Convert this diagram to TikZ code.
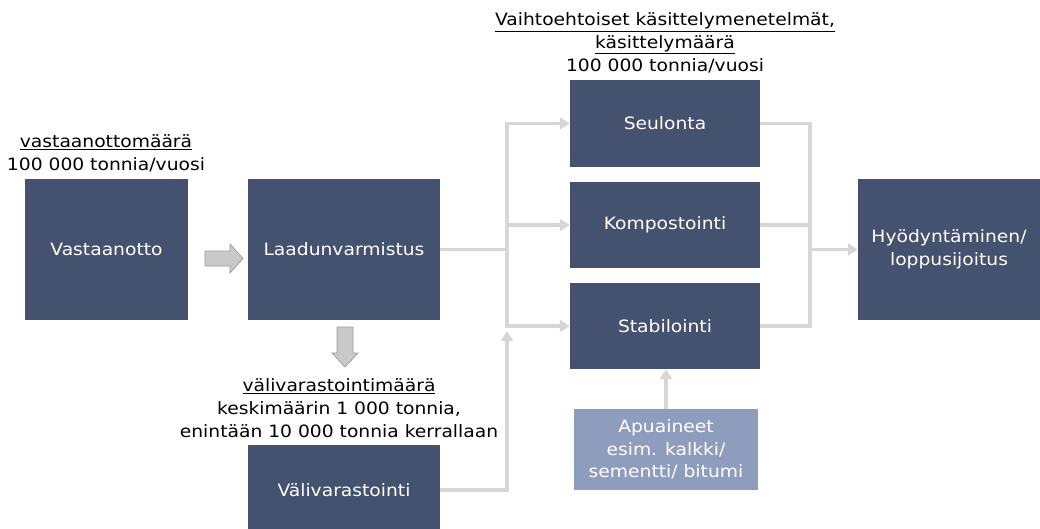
\documentclass[tikz,border=0pt]{standalone}
\usepackage{fontspec}
\setmainfont[FakeStretch=1.1]{DejaVu Sans}
\usetikzlibrary{arrows.meta}
\definecolor{boxdark}{HTML}{44526F}
\definecolor{boxlight}{HTML}{8E9DBD}
\definecolor{linegrey}{HTML}{D6D6D6}
\definecolor{arrowfill}{HTML}{C9C9C9}
\definecolor{arrowedge}{HTML}{9A9A9A}
\tikzset{
  darkbox/.style={fill=boxdark,draw=none,text=white,align=center,font=\fontsize{17}{22.5}\selectfont,inner sep=0pt},
  lightbox/.style={fill=boxlight,draw=none,text=white,align=center,font=\fontsize{17}{22.5}\selectfont,inner sep=0pt},
  conn/.style={draw=linegrey,line width=3.5pt},
  trunk/.style={conn,line cap=rect},
  connarr/.style={conn,-{Triangle[length=10pt,width=12pt]}},
  blockarrow/.style={fill=arrowfill,draw=arrowedge,line width=0.7pt,line join=miter},
  lbl/.style={align=center,font=\fontsize{17}{22.8}\selectfont,inner sep=0pt}
}
\begin{document}
\begin{tikzpicture}[x=1pt,y=-1pt]
\useasboundingbox (0,0) rectangle (1040,529);
% boxes
\node[darkbox,minimum width=163pt,minimum height=141pt] (vast) at (106.5,249.5) {Vastaanotto};
\node[darkbox,minimum width=192pt,minimum height=141pt] (laad) at (344,249.5) {Laadunvarmistus};
\node[darkbox,minimum width=190pt,minimum height=87pt] (seul) at (665,123.5) {Seulonta};
\node[darkbox,minimum width=190pt,minimum height=86pt] (komp) at (665,225) {Kompostointi};
\node[darkbox,minimum width=190pt,minimum height=86pt] (stab) at (665,326) {Stabilointi};
\node[darkbox,minimum width=182pt,minimum height=141pt] (hyod) at (949,249.5) {Hyödyntäminen/\\loppusijoitus};
\node[lightbox,minimum width=184pt,minimum height=81pt] (apu) at (666,449.5) {Apuaineet\\esim. kalkki/\\sementti/ bitumi};
\node[darkbox,minimum width=192pt,minimum height=90pt] (vali) at (344,490) {Välivarastointi};
% labels
\node[lbl] (l1) at (106,153) {\underline{vastaanottomäärä}\\100 000 tonnia/vuosi};
\node[lbl] (l2) at (665,43) {\underline{Vaihtoehtoiset käsittelymenetelmät,}\\\underline{käsittelymäärä}\\100 000 tonnia/vuosi};
\node[lbl] (l3) at (339,408) {\underline{välivarastointimäärä}\\keskimäärin 1 000 tonnia,\\enintään 10 000 tonnia kerrallaan};
% block arrows
\draw[blockarrow] (205,251) -- (230,251) -- (230,244) -- (243,258.5) -- (230,273) -- (230,266) -- (205,266) -- cycle;
\draw[blockarrow] (337,327) -- (353,327) -- (353,353) -- (358,353) -- (345,367) -- (332,353) -- (337,353) -- cycle;
% connectors
\coordinate (jl) at (507,249.5);
\coordinate (jr) at (810,249.5);
\draw[conn] (laad.east) -- (jl);
\draw[trunk] (jl |- seul.east) -- (jl |- stab.east);
\draw[connarr] (jl |- seul.east) -- (seul.west);
\draw[connarr] (jl |- komp.east) -- (komp.west);
\draw[connarr] (jl |- stab.east) -- (stab.west);
\draw[conn,line join=miter] (vali.east |- 0,490) -- (jl |- 0,490) -- (jl |- 0,345);
\draw[connarr] (jl |- 0,346) -- (jl |- 0,331);
\draw[conn] (seul.east) -- (jr |- seul.east);
\draw[conn] (komp.east) -- (jr |- komp.east);
\draw[conn] (stab.east) -- (jr |- stab.east);
\draw[trunk] (jr |- seul.east) -- (jr |- stab.east);
\draw[connarr] (jr) -- (hyod.west);
\draw[connarr] (apu.north) -- (apu.north |- stab.south);
\end{tikzpicture}
\end{document}
